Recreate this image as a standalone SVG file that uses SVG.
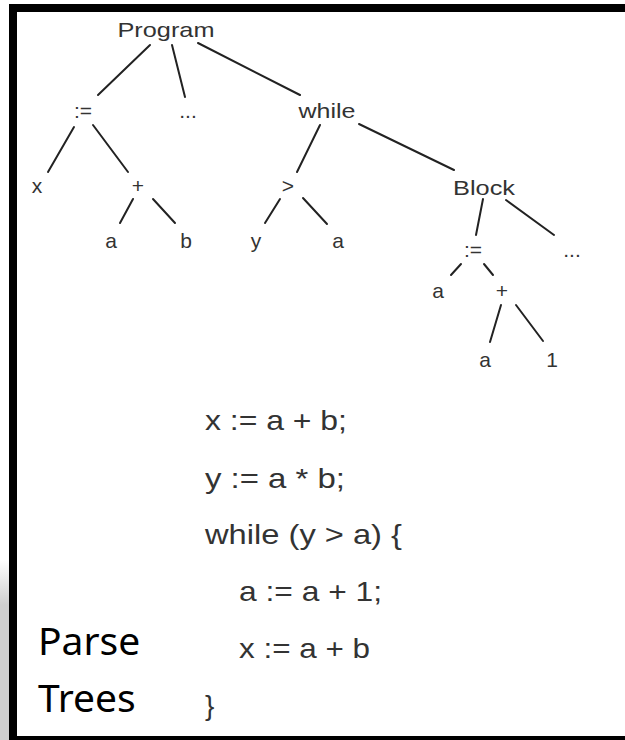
<svg xmlns="http://www.w3.org/2000/svg" width="625" height="740" viewBox="0 0 625 740">
<style>
.t{font-family:"Liberation Sans",Arial,sans-serif;font-size:21px;fill:#333;text-anchor:middle}
.c{font-family:"Liberation Sans",Arial,sans-serif;font-size:28px;fill:#333}
.p{font-family:"Noto Sans","Open Sans",sans-serif;font-size:39px;fill:#000}
.e line{stroke:#222;stroke-width:2;stroke-linecap:round}
</style>
<defs>
<linearGradient id="sh" x1="0" y1="0" x2="0" y2="1">
<stop offset="0" stop-color="#ffffff"/>
<stop offset="0.25" stop-color="#cfcfcf"/>
<stop offset="1" stop-color="#cfcfcf"/>
</linearGradient>
</defs>
<rect width="625" height="740" fill="#fff"/>
<rect x="0" y="560" width="9" height="180" fill="url(#sh)"/>
<g id="frame" fill="#000">
<rect x="9" y="4" width="616" height="8"/>
<rect x="9" y="4" width="8" height="736"/>
<rect x="9" y="736" width="616" height="4"/>
</g>
<g id="connectors" class="e">
<line x1="150" y1="45" x2="98" y2="95"/>
<line x1="172" y1="45" x2="185" y2="97"/>
<line x1="198" y1="43" x2="300" y2="95"/>
<line x1="74" y1="127" x2="48" y2="172"/>
<line x1="93" y1="125" x2="128" y2="172"/>
<line x1="133" y1="199" x2="120" y2="223"/>
<line x1="153" y1="199" x2="175" y2="223"/>
<line x1="320" y1="125" x2="297" y2="172"/>
<line x1="280" y1="199" x2="265" y2="223"/>
<line x1="303" y1="198" x2="327" y2="224"/>
<line x1="359" y1="124" x2="454" y2="170"/>
<line x1="483" y1="199" x2="476" y2="235"/>
<line x1="506" y1="200" x2="554" y2="235"/>
<line x1="461" y1="264" x2="451" y2="275"/>
<line x1="484" y1="264" x2="493" y2="275"/>
<line x1="501" y1="305" x2="490" y2="342"/>
<line x1="516" y1="305" x2="543" y2="341"/>
</g>
<g id="n-program"><text class="t" x="166" y="37" textLength="97" lengthAdjust="spacingAndGlyphs">Program</text></g>
<g id="n-assign1"><text class="t" x="83" y="118">:=</text></g>
<g id="n-dots1"><text class="t" x="188" y="118">...</text></g>
<g id="n-while"><text class="t" x="327" y="118" textLength="57" lengthAdjust="spacingAndGlyphs">while</text></g>
<g id="n-x"><text class="t" x="37" y="193">x</text></g>
<g id="n-plus1"><text class="t" x="138" y="193">+</text></g>
<g id="n-gt"><text class="t" x="288" y="193">&gt;</text></g>
<g id="n-block"><text class="t" x="484" y="195" textLength="62" lengthAdjust="spacingAndGlyphs">Block</text></g>
<g id="n-a1"><text class="t" x="111" y="248">a</text></g>
<g id="n-b"><text class="t" x="186" y="248">b</text></g>
<g id="n-y"><text class="t" x="256" y="248">y</text></g>
<g id="n-a2"><text class="t" x="338" y="248">a</text></g>
<g id="n-assign2"><text class="t" x="473" y="257">:=</text></g>
<g id="n-dots2"><text class="t" x="572" y="257">...</text></g>
<g id="n-a3"><text class="t" x="438" y="298">a</text></g>
<g id="n-plus2"><text class="t" x="502" y="298">+</text></g>
<g id="n-a4"><text class="t" x="485" y="367">a</text></g>
<g id="n-one"><text class="t" x="552" y="367">1</text></g>
<g id="code">
<text class="c" x="205" y="430" textLength="142" lengthAdjust="spacingAndGlyphs">x := a + b;</text>
<text class="c" x="205" y="488" textLength="140" lengthAdjust="spacingAndGlyphs">y := a * b;</text>
<text class="c" x="205" y="544" textLength="197" lengthAdjust="spacingAndGlyphs">while (y &gt; a) {</text>
<text class="c" x="239" y="601" textLength="143" lengthAdjust="spacingAndGlyphs">a := a + 1;</text>
<text class="c" x="239" y="658" textLength="131" lengthAdjust="spacingAndGlyphs">x := a + b</text>
<text class="c" x="205" y="715">}</text>
</g>
<g id="title">
<text class="p" x="38" y="655">Parse</text>
<text class="p" x="38" y="712">Trees</text>
</g>
</svg>
